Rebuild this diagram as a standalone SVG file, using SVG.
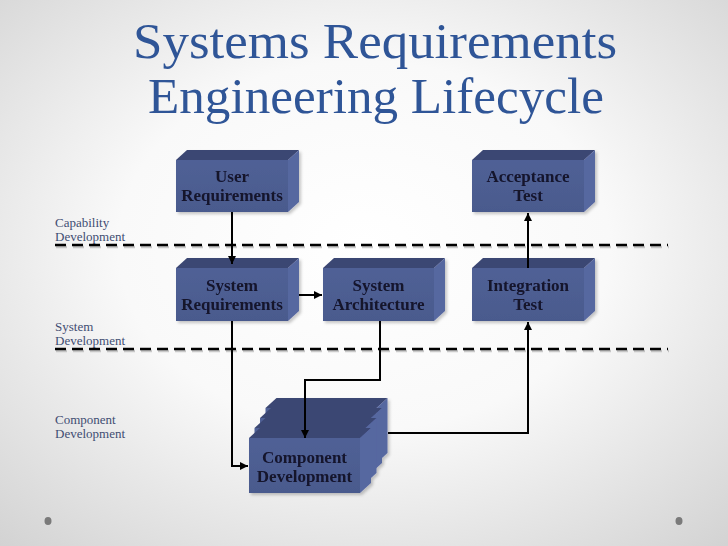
<svg xmlns="http://www.w3.org/2000/svg" xmlns:xlink="http://www.w3.org/1999/xlink" width="728" height="546" viewBox="0 0 728 546">
<defs>
<radialGradient id="bg" cx="50%" cy="45%" r="75%">
<stop offset="0" stop-color="#ffffff"/>
<stop offset="0.45" stop-color="#f9f9f9"/>
<stop offset="1" stop-color="#d2d2d2"/>
</radialGradient>
<linearGradient id="frontg" x1="0" y1="0" x2="0" y2="1">
<stop offset="0" stop-color="#506196"/>
<stop offset="1" stop-color="#4a5a8d"/>
</linearGradient>
<filter id="sh" x="-10%" y="-10%" width="130%" height="130%">
<feDropShadow dx="2" dy="2" stdDeviation="1.5" flood-color="#000" flood-opacity="0.22"/>
</filter>
<marker id="ah" markerUnits="userSpaceOnUse" markerWidth="9" markerHeight="9" refX="8" refY="4" orient="auto">
<path d="M0,0 L8,4 L0,8 Z" fill="#000"/>
</marker>
<g id="stackbox">
<path class="top" d="M0,0 L11,-10 L122,-10 L111,0 Z"/>
<path class="side" d="M111,0 L122,-10 L122,45 L111,55 Z"/>
<rect class="front" x="0" y="0" width="111" height="55"/>
</g>
<style>
.top{fill:#3b4673;}
.side{fill:#5767a0;}
.front{fill:url(#frontg);}
.bt{font-family:"Liberation Serif",serif;font-weight:bold;font-size:17px;fill:#12122c;text-anchor:middle;}
.lab{font-family:"Liberation Serif",serif;font-size:13px;fill:#3f4d72;}
.title{font-family:"Liberation Serif",serif;font-size:50px;fill:#2f5597;text-anchor:middle;}
.dash{stroke:#000;stroke-width:2.5;stroke-dasharray:11 6;fill:none;}
.dsh{stroke:#9a9a9a;stroke-width:2.5;stroke-dasharray:11 6;fill:none;opacity:0.5;}
.con{stroke:#000;stroke-width:2;fill:none;}
</style>
</defs>
<rect x="0" y="0" width="728" height="546" fill="url(#bg)"/>
<g id="title">
<text class="title" x="375" y="58" textLength="484" lengthAdjust="spacingAndGlyphs">Systems Requirements</text>
<text class="title" x="376" y="113" textLength="456" lengthAdjust="spacingAndGlyphs">Engineering Lifecycle</text>
</g>
<g id="levels">
<text class="lab" x="55" y="227">Capability</text>
<text class="lab" x="55" y="241">Development</text>
<text class="lab" x="55" y="331">System</text>
<text class="lab" x="55" y="345">Development</text>
<text class="lab" x="55" y="424">Component</text>
<text class="lab" x="55" y="438">Development</text>
<line class="dsh" x1="56" y1="247" x2="669" y2="247"/>
<line class="dash" x1="55" y1="245" x2="668" y2="245"/>
<line class="dsh" x1="56" y1="351" x2="669" y2="351"/>
<line class="dash" x1="55" y1="349" x2="668" y2="349"/>
</g>
<g id="user-requirements" filter="url(#sh)">
<path class="top" d="M176,160 L187,150 L299,150 L288,160 Z"/>
<path class="side" d="M288,160 L299,150 L299,202 L288,212 Z"/>
<rect class="front" x="176" y="160" width="112" height="52"/>
<text class="bt" x="232" y="182">User</text>
<text class="bt" x="232" y="201">Requirements</text>
</g>
<g id="acceptance-test" filter="url(#sh)">
<path class="top" d="M472,160 L483,150 L595,150 L584,160 Z"/>
<path class="side" d="M584,160 L595,150 L595,202 L584,212 Z"/>
<rect class="front" x="472" y="160" width="112" height="52"/>
<text class="bt" x="528" y="182">Acceptance</text>
<text class="bt" x="528" y="201">Test</text>
</g>
<g id="system-requirements" filter="url(#sh)">
<path class="top" d="M176,268 L187,258 L299,258 L288,268 Z"/>
<path class="side" d="M288,268 L299,258 L299,311 L288,321 Z"/>
<rect class="front" x="176" y="268" width="112" height="53"/>
<text class="bt" x="232" y="291">System</text>
<text class="bt" x="232" y="310">Requirements</text>
</g>
<g id="system-architecture" filter="url(#sh)">
<path class="top" d="M323,268 L334,258 L445,258 L434,268 Z"/>
<path class="side" d="M434,268 L445,258 L445,311 L434,321 Z"/>
<rect class="front" x="323" y="268" width="111" height="53"/>
<text class="bt" x="378.5" y="291">System</text>
<text class="bt" x="378.5" y="310">Architecture</text>
</g>
<g id="integration-test" filter="url(#sh)">
<path class="top" d="M472,268 L483,258 L595,258 L584,268 Z"/>
<path class="side" d="M584,268 L595,258 L595,311 L584,321 Z"/>
<rect class="front" x="472" y="268" width="112" height="53"/>
<text class="bt" x="528" y="291">Integration</text>
<text class="bt" x="528" y="310">Test</text>
</g>
<g id="component-development" filter="url(#sh)">
<use xlink:href="#stackbox" href="#stackbox" x="265.5" y="408"/>
<use xlink:href="#stackbox" href="#stackbox" x="260" y="418"/>
<use xlink:href="#stackbox" href="#stackbox" x="254.5" y="428"/>
<use xlink:href="#stackbox" href="#stackbox" x="249" y="438"/>
<text class="bt" x="304.5" y="463">Component</text>
<text class="bt" x="304.5" y="482">Development</text>
</g>
<g id="connectors">
<path class="con" d="M232,212 V264" marker-end="url(#ah)"/>
<path class="con" d="M299,295 H322" marker-end="url(#ah)"/>
<path class="con" d="M528,268 V213" marker-end="url(#ah)"/>
<path class="con" d="M232,321 V466 H248" marker-end="url(#ah)"/>
<path class="con" d="M380,321 V380 H305 V438" marker-end="url(#ah)"/>
<path class="con" d="M388,433 H528 V322" marker-end="url(#ah)"/>
</g>
<g id="dots">
<ellipse cx="48" cy="521" rx="3.5" ry="4" fill="#7a7a7a"/>
<ellipse cx="679" cy="521" rx="3.5" ry="4" fill="#7a7a7a"/>
</g>
</svg>
